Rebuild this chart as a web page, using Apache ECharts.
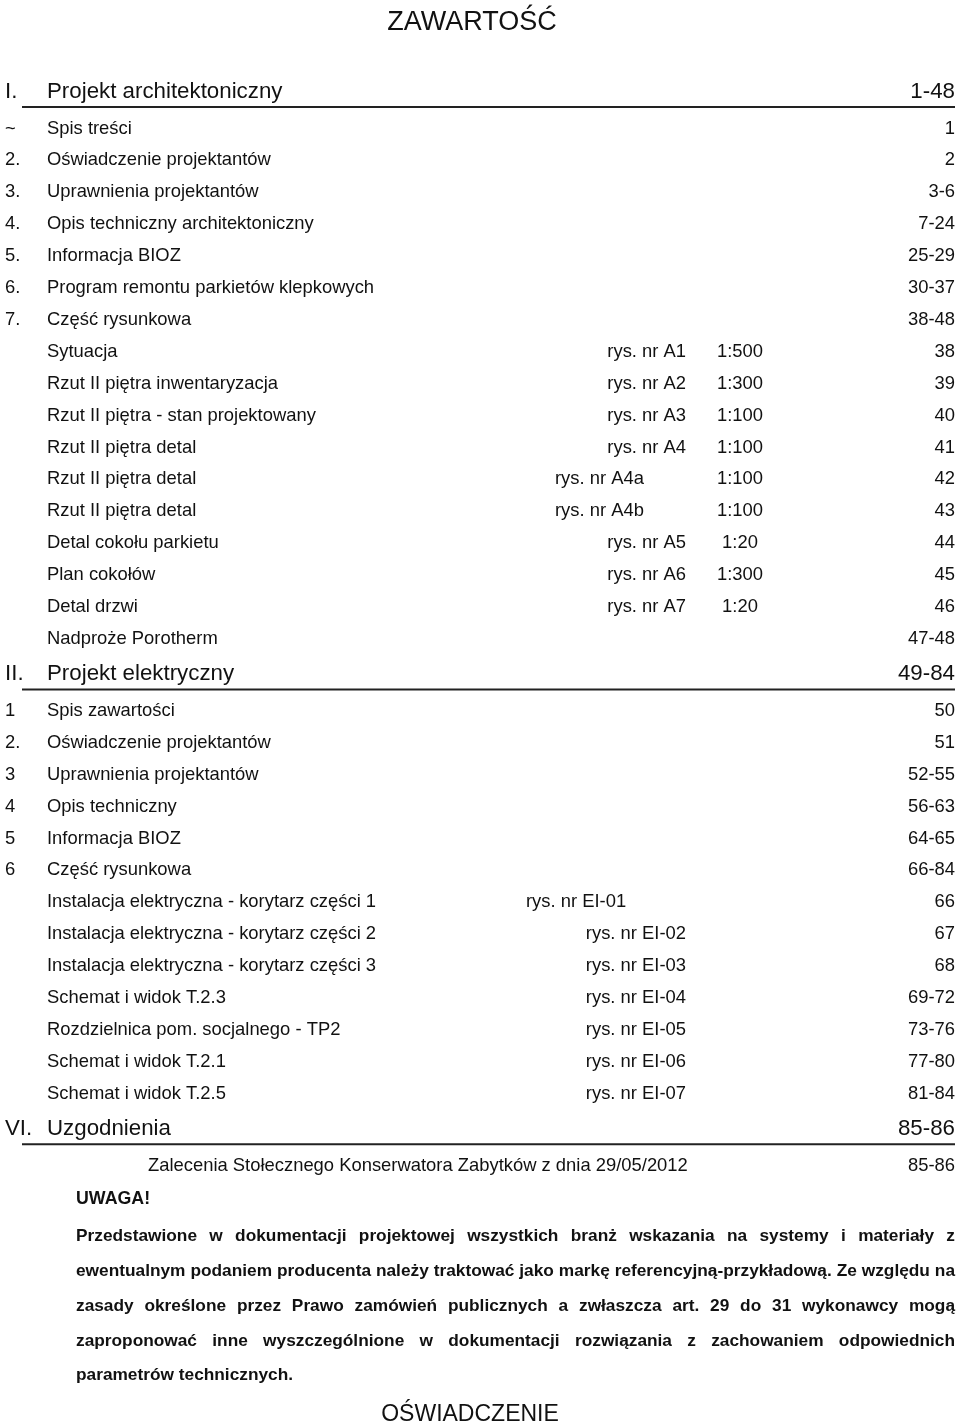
<!DOCTYPE html>
<html><head><meta charset="utf-8">
<script src="https://cdn.jsdelivr.net/npm/echarts@6/dist/echarts.min.js"></script>
<style>html,body{margin:0;padding:0;background:#fff}#c{width:960px;height:1424px}</style>
</head><body><div id="c"></div>
<script>
// ---- data ----
const pageTitle = 'ZAWARTOŚĆ';
const footerTitle = 'OŚWIADCZENIE';
const headNums = ['I.', 'II.', 'VI.'];
const headTitles = ['Projekt architektoniczny', 'Projekt elektryczny', 'Uzgodnienia'];
const headPages = ['1-48', '49-84', '85-86'];

const secINums = ['~', '2.', '3.', '4.', '5.', '6.', '7.', '', '', '', '', '', '', '', '', '', ''];
const secITitles = ['Spis treści', 'Oświadczenie projektantów', 'Uprawnienia projektantów', 'Opis techniczny architektoniczny', 'Informacja BIOZ', 'Program remontu parkietów klepkowych', 'Część rysunkowa', 'Sytuacja', 'Rzut II piętra inwentaryzacja', 'Rzut II piętra - stan projektowany', 'Rzut II piętra detal', 'Rzut II piętra detal', 'Rzut II piętra detal', 'Detal cokołu parkietu', 'Plan cokołów', 'Detal drzwi', 'Nadproże Porotherm'];
const secIRefs = ['', '', '', '', '', '', '', 'rys. nr A1', 'rys. nr A2', 'rys. nr A3', 'rys. nr A4', 'rys. nr A4a', 'rys. nr A4b', 'rys. nr A5', 'rys. nr A6', 'rys. nr A7', ''];
const secIScales = ['', '', '', '', '', '', '', '1:500', '1:300', '1:100', '1:100', '1:100', '1:100', '1:20', '1:300', '1:20', ''];
const secIPages = ['1', '2', '3-6', '7-24', '25-29', '30-37', '38-48', '38', '39', '40', '41', '42', '43', '44', '45', '46', '47-48'];

const secIINums = ['1', '2.', '3', '4', '5', '6', '', '', '', '', '', '', ''];
const secIITitles = ['Spis zawartości', 'Oświadczenie projektantów', 'Uprawnienia projektantów', 'Opis techniczny', 'Informacja BIOZ', 'Część rysunkowa', 'Instalacja elektryczna - korytarz części 1', 'Instalacja elektryczna - korytarz części 2', 'Instalacja elektryczna - korytarz części 3', 'Schemat i widok T.2.3', 'Rozdzielnica pom. socjalnego - TP2', 'Schemat i widok T.2.1', 'Schemat i widok T.2.5'];
const secIIRefs = ['', '', '', '', '', '', 'rys. nr EI-01', 'rys. nr EI-02', 'rys. nr EI-03', 'rys. nr EI-04', 'rys. nr EI-05', 'rys. nr EI-06', 'rys. nr EI-07'];
const secIIPages = ['50', '51', '52-55', '56-63', '64-65', '66-84', '66', '67', '68', '69-72', '73-76', '77-80', '81-84'];

const secVITitles = ['Zalecenia Stołecznego Konserwatora Zabytków z dnia 29/05/2012'];
const secVIPages = ['85-86'];

const noteTitle = 'UWAGA!';
const noteLines = [
  'Przedstawione w dokumentacji projektowej wszystkich branż wskazania na systemy i materiały z',
  'ewentualnym podaniem producenta należy traktować jako markę referencyjną-przykładową. Ze względu na',
  'zasady określone przez Prawo zamówień publicznych a zwłaszcza art. 29 do 31 wykonawcy mogą',
  'zaproponować inne wyszczególnione w dokumentacji rozwiązania z zachowaniem odpowiednich',
  'parametrów technicznych.'
];

// ---- layout (not data) ----
const FONT = '"Liberation Sans", Arial, sans-serif';
const COLOR = '#111';
const BODY = 18.4, HEAD = 22.3, PARA = 17.3;
const numX = 5, titleX = 47, rightX = 955, refRightX = 686, scaleCX = 740;
const rowStep = 31.9;
const dy = 1.5;
const refLeftI = {11: 555, 12: 555};
const refLeftII = {6: 526};

const els = [];
function txt(x, y, s, o) {
  o = o || {};
  els.push({type: 'text', x: x, y: y + dy, silent: true, style: {
    text: s, fill: COLOR, font: (o.weight || 'normal') + ' ' + (o.size || BODY) + 'px ' + FONT,
    textAlign: o.align || 'left', textVerticalAlign: 'middle'
  }});
}
function heading(i, y) {
  txt(numX, y, headNums[i], {size: HEAD});
  txt(titleX, y, headTitles[i], {size: HEAD});
  txt(rightX, y, headPages[i], {size: HEAD, align: 'right'});
  els.push({type: 'line', silent: true, shape: {x1: 22, y1: y + 17, x2: rightX, y2: y + 17}, style: {stroke: '#222', lineWidth: 2}});
}

txt(472, 21, pageTitle, {size: 27, align: 'center'});

let y = 90;
heading(0, y);
y += 37;
secITitles.forEach((t, i) => {
  const yy = y + i * rowStep;
  if (secINums[i]) txt(numX, yy, secINums[i]);
  txt(titleX, yy, t);
  if (secIRefs[i]) {
    if (refLeftI[i] != null) txt(refLeftI[i], yy, secIRefs[i]);
    else txt(refRightX, yy, secIRefs[i], {align: 'right'});
  }
  if (secIScales[i]) txt(scaleCX, yy, secIScales[i], {align: 'center'});
  txt(rightX, yy, secIPages[i], {align: 'right'});
});
y = y + (secITitles.length - 1) * rowStep + 35;
heading(1, y);
y += 37;
secIITitles.forEach((t, i) => {
  const yy = y + i * rowStep;
  if (secIINums[i]) txt(numX, yy, secIINums[i]);
  txt(titleX, yy, t);
  if (secIIRefs[i]) {
    if (refLeftII[i] != null) txt(refLeftII[i], yy, secIIRefs[i]);
    else txt(refRightX, yy, secIIRefs[i], {align: 'right'});
  }
  txt(rightX, yy, secIIPages[i], {align: 'right'});
});
y = y + (secIITitles.length - 1) * rowStep + 35;
heading(2, y);
y += 37;
secVITitles.forEach((t, i) => {
  txt(148, y, t);
  txt(rightX, y, secVIPages[i], {align: 'right'});
});

txt(76, 1198, noteTitle, {size: 17.8, weight: 'bold'});

// justified paragraph
const mctx = document.createElement('canvas').getContext('2d');
mctx.font = 'bold ' + PARA + 'px ' + FONT;
const pLeft = 76, pRight = 955, pTop = 1235, pStep = 34.8;
noteLines.forEach((line, li) => {
  const yy = pTop + li * pStep;
  if (li === noteLines.length - 1) { txt(pLeft, yy, line, {size: PARA, weight: 'bold'}); return; }
  const words = line.split(' ');
  const widths = words.map(w => mctx.measureText(w).width);
  const total = widths.reduce((a, b) => a + b, 0);
  const gap = (pRight - pLeft - total) / (words.length - 1);
  let x = pLeft;
  words.forEach((w, wi) => {
    txt(x, yy, w, {size: PARA, weight: 'bold'});
    x += widths[wi] + gap;
  });
});

txt(470, 1413, footerTitle, {size: 23, align: 'center'});

const chart = echarts.init(document.getElementById('c'), null, {renderer: 'canvas'});
chart.setOption({backgroundColor: '#fff', animation: false, graphic: {elements: els}});
</script></body></html>
